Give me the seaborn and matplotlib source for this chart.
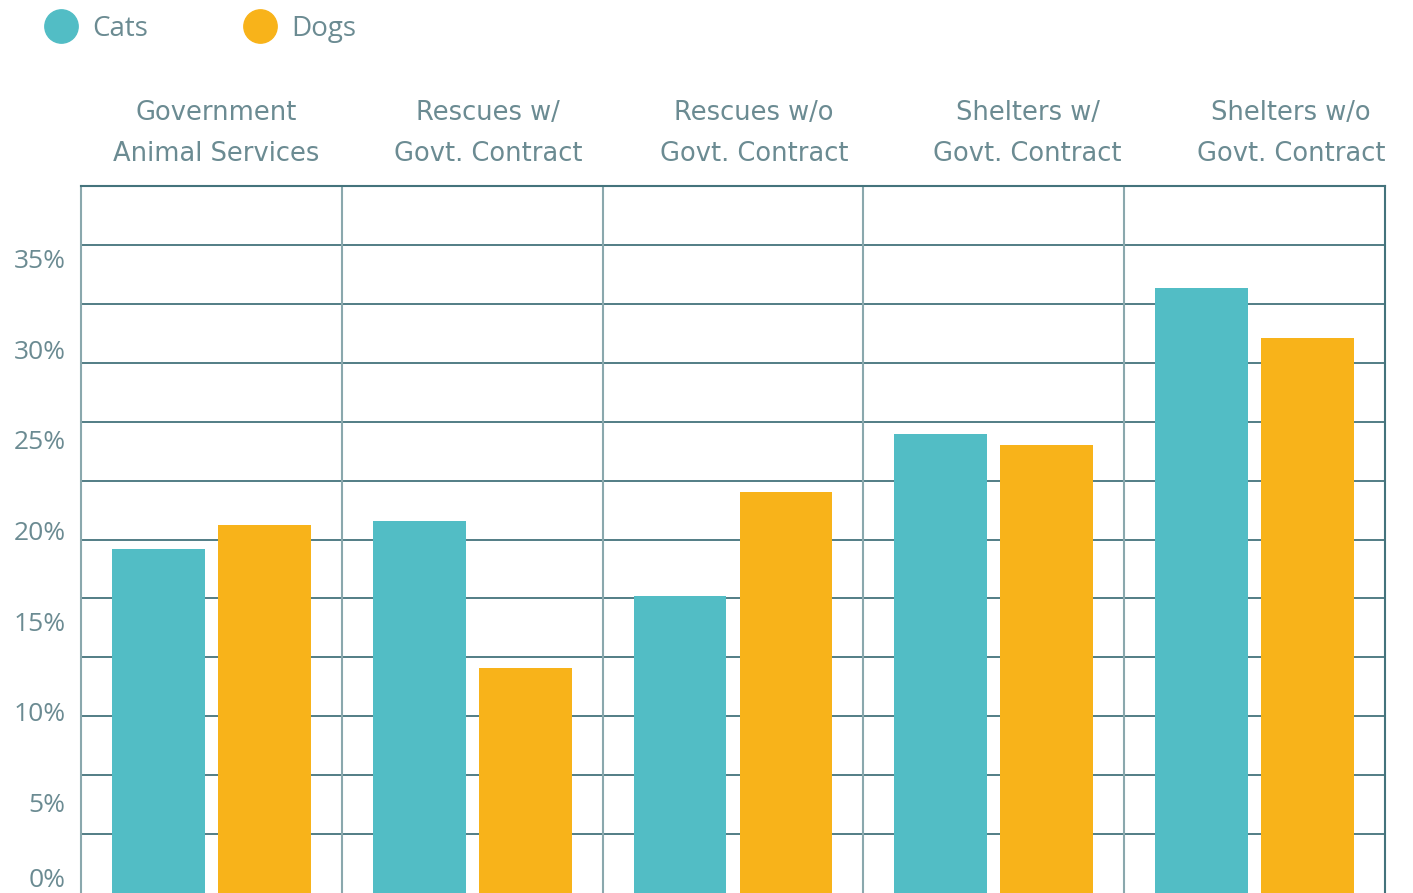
import matplotlib.pyplot as plt
import seaborn as sns
import pandas as pd
from matplotlib.lines import Line2D

# Data (percent)
categories = [
    "Government\nAnimal Services",
    "Rescues w/\nGovt. Contract",
    "Rescues w/o\nGovt. Contract",
    "Shelters w/\nGovt. Contract",
    "Shelters w/o\nGovt. Contract",
]
cats = [19.0, 20.5, 16.4, 25.3, 33.4]
dogs = [20.3, 12.4, 22.1, 24.7, 30.6]
series = ["Cats", "Dogs"]
ytick_values = [0, 5, 10, 15, 20, 25, 30, 35]

TEAL = "#52bdc5"
ORANGE = "#f8b31a"
TEXT = "#6b8b92"
HLINE = "#44737c"
VLINE = "#8aa8ad"

df = pd.DataFrame({
    "category": categories * 2,
    "value": cats + dogs,
    "animal": [series[0]] * len(cats) + [series[1]] * len(dogs),
})

sns.set_style("white")
plt.rcParams["font.family"] = ["Open Sans", "DejaVu Sans"]

fig = plt.figure(figsize=(14.13, 8.93), dpi=100)
ax = fig.add_axes([81 / 1413, 0.0, (1385 - 81) / 1413, 1 - 186 / 893])

# horizontal rules (12 even bands) drawn under the bars
ymax = 39.0
for i in range(1, 13):
    ax.axhline(ymax * i / 12, color=HLINE, lw=1.3, zorder=0)
for i in range(len(categories) - 1):
    ax.axvline(i + 0.5, color=VLINE, lw=1.5, zorder=0)

sns.barplot(data=df, x="category", y="value", hue="animal",
            palette=[TEAL, ORANGE], width=0.813, gap=0.123,
            saturation=1, linewidth=0, legend=False, ax=ax, zorder=2)

ax.set_ylim(0, ymax)
ax.set_xlim(-0.5, len(categories) - 0.5)
ax.set_xlabel("")
ax.set_ylabel("")

# y ticks
ax.set_yticks(ytick_values)
ax.set_yticklabels([f"{v}%" for v in ytick_values])
ax.tick_params(axis="y", length=0, pad=11, labelsize=19, labelcolor=TEXT)
for lab in ax.get_yticklabels():
    if lab.get_text() == "0%":
        lab.set_va("bottom")

# category labels above the plot (wider face to match the loose tracking)
ax.xaxis.tick_top()
shift = [0.02, 0.06, 0.08, 0.13, 0.14]
ax.set_xticks([i + s for i, s in enumerate(shift)])
ax.set_xticklabels(categories, linespacing=1.72, family="DejaVu Sans")
ax.tick_params(axis="x", length=0, pad=14, labelsize=18.5, labelcolor=TEXT)

for side in ["left", "right"]:
    ax.spines[side].set_color(VLINE)
    ax.spines[side].set_linewidth(1.5)
ax.spines["right"].set_color(HLINE)
ax.spines["top"].set_color(HLINE)
ax.spines["top"].set_linewidth(1.5)
ax.spines["bottom"].set_visible(False)

handles = [
    Line2D([], [], marker="o", ls="", markersize=24, color=TEAL),
    Line2D([], [], marker="o", ls="", markersize=24, color=ORANGE),
]
leg = fig.legend(handles, series, loc="upper left", ncol=2,
                 bbox_to_anchor=(45 / 1413, 1 - 15 / 893), frameon=False,
                 borderpad=0, borderaxespad=0, handlelength=1.15,
                 handletextpad=0.55, columnspacing=3.45, fontsize=20)
for t in leg.get_texts():
    t.set_color(TEXT)

fig.savefig("out.png", dpi=100)
